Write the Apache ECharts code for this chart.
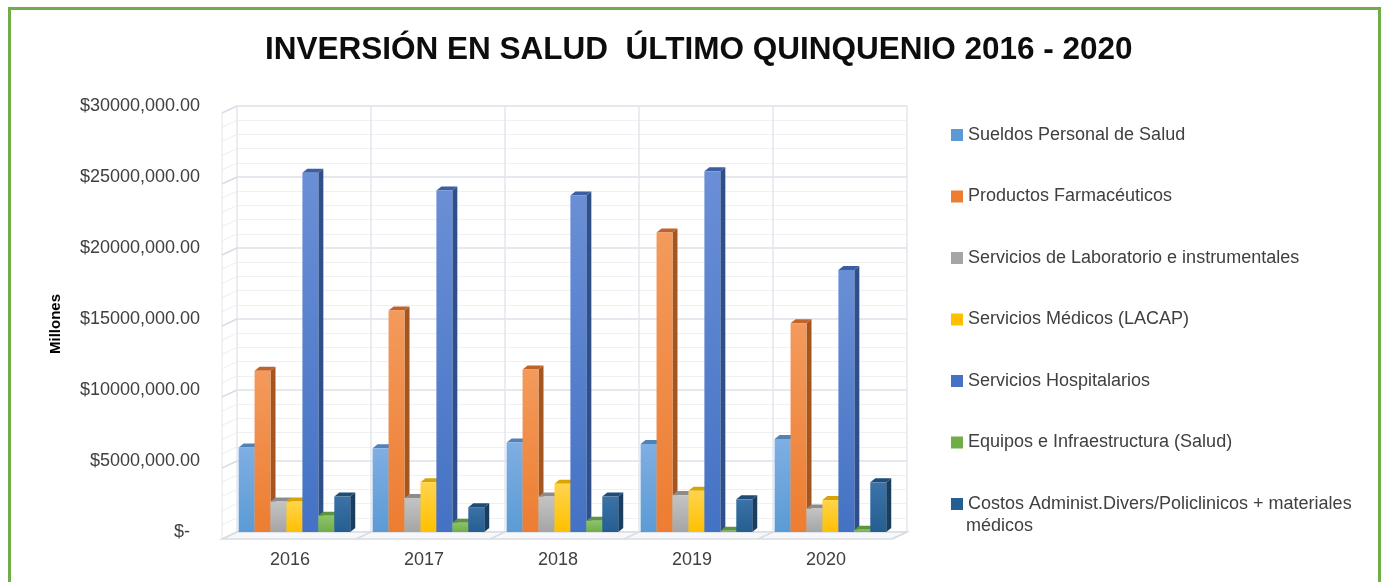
<!DOCTYPE html>
<html>
<head>
<meta charset="utf-8">
<script src="https://cdn.jsdelivr.net/npm/echarts@6/dist/echarts.min.js"></script>
<style>
html,body{margin:0;padding:0;background:#fff;}
#c{width:1385px;height:582px;}
</style>
</head>
<body>
<div id="c"></div>
<script>
// ---- data ----
const years = ['2016', '2017', '2018', '2019', '2020'];
const seriesNames = [
  'Sueldos Personal de Salud',
  'Productos Farmacéuticos',
  'Servicios de Laboratorio e instrumentales',
  'Servicios Médicos (LACAP)',
  'Servicios Hospitalarios',
  'Equipos e Infraestructura (Salud)',
  'Costos Administ.Divers/Policlinicos + materiales médicos'
];
const sueldos       = [5950000, 5900000, 6300000, 6200000, 6550000];
const productos     = [11350000, 15600000, 11450000, 21100000, 14700000];
const laboratorio   = [2150000, 2400000, 2500000, 2600000, 1650000];
const medicos       = [2150000, 3500000, 3400000, 2900000, 2250000];
const hospitalarios = [25300000, 24050000, 23700000, 25400000, 18450000];
const equipos       = [1150000, 650000, 800000, 80000, 150000];
const costos        = [2500000, 1750000, 2500000, 2300000, 3500000];
const yTicks = { min: 0, max: 30000000, interval: 5000000 };

// ---- styles ----
const palette = [
  { light: '#7FAEE2', base: '#5B9BD5', dark: '#41719C', topc: '#4F82B8' },
  { light: '#F39A5C', base: '#ED7D31', dark: '#A5561F', topc: '#C0622A' },
  { light: '#C4C4C4', base: '#A5A5A5', dark: '#7A7A7A', topc: '#8C8C8C' },
  { light: '#FFD44D', base: '#FFC000', dark: '#B88A00', topc: '#D9A300' },
  { light: '#6A8FD6', base: '#4472C4', dark: '#2F4F8A', topc: '#3A5FA3' },
  { light: '#8CC46A', base: '#70AD47', dark: '#4E7A32', topc: '#5E9340' },
  { light: '#3B73A8', base: '#255E91', dark: '#183E60', topc: '#1F4D77' }
];
const allData = [sueldos, productos, laboratorio, medicos, hospitalarios, equipos, costos];

const DX = 5, DY = 4;

function barSeries(idx) {
  const c = palette[idx];
  return {
    type: 'custom',
    name: seriesNames[idx],
    data: allData[idx].map((v, i) => [i, v]),
    encode: { x: 0, y: 1 },
    itemStyle: { color: c.base },
    z: 3,
    renderItem: function (params, api) {
      const cat = api.value(0), val = api.value(1);
      const band = api.size([1, 0])[0];
      const base = api.coord([cat, 0]);
      const top = api.coord([cat, val]);
      const bandLeft = base[0] - band / 2;
      const w = band * 0.119;
      const x0 = bandLeft + band * 0.012 + idx * w;
      const x1 = x0 + w;
      const yb = base[1], yt = top[1];
      const grad = new echarts.graphic.LinearGradient(0, 0, 0, 1, [
        { offset: 0, color: c.light }, { offset: 1, color: c.base }
      ]);
      return {
        type: 'group',
        children: [
          { type: 'polygon', shape: { points: [[x1, yb], [x1 + DX, yb - DY], [x1 + DX, yt - DY], [x1, yt]] }, style: { fill: c.dark } },
          { type: 'polygon', shape: { points: [[x0, yt], [x0 + DX, yt - DY], [x1 + DX, yt - DY], [x1, yt]] }, style: { fill: c.topc } },
          { type: 'rect', shape: { x: x0, y: yt, width: w, height: Math.max(yb - yt, 0) }, style: { fill: grad } }
        ]
      };
    }
  };
}

// frame: floor + left side wall, computed from the axes
const frameSeries = {
  type: 'custom',
  name: '__frame',
  data: [[0, 0]],
  encode: { x: 0, y: 1 },
  silent: true,
  z: 1,
  renderItem: function (params, api) {
    const band = api.size([1, 0])[0];
    const p0 = api.coord([0, 0]);
    const L = p0[0] - band / 2;
    const R = L + band * years.length;
    const y0 = p0[1];
    const ox = -15, oy = 7;
    const kids = [];
    kids.push({ type: 'polygon', shape: { points: [[L, y0], [R, y0], [R + ox, y0 + oy], [L + ox, y0 + oy]] },
      style: { fill: '#F7F8FA', stroke: '#D9DCE3', lineWidth: 1.5 } });
    for (let i = 0; i <= years.length; i++) {
      const x = L + band * i;
      kids.push({ type: 'line', shape: { x1: x, y1: y0, x2: x + ox, y2: y0 + oy }, style: { stroke: '#D9DCE3', lineWidth: 1.5 } });
    }
    const step = yTicks.interval / 5;
    for (let v = step; v <= yTicks.max + 1; v += step) {
      const y = api.coord([0, v])[1];
      const major = Math.abs(v / yTicks.interval - Math.round(v / yTicks.interval)) < 1e-6;
      kids.push({ type: 'line', shape: { x1: L, y1: y, x2: L + ox, y2: y + oy },
        style: { stroke: major ? '#D9DCE3' : '#ECEEF2', lineWidth: major ? 1.5 : 1 } });
    }
    const yTop = api.coord([0, yTicks.max])[1];
    kids.push({ type: 'line', shape: { x1: L + ox, y1: yTop + oy, x2: L + ox, y2: y0 + oy }, style: { stroke: '#E3E6EC', lineWidth: 1 } });
    return { type: 'group', children: kids };
  }
};

function fmtY(v) {
  if (v === 0) return '$-  ';
  const th = Math.floor(v / 1000);
  const rest = String(v % 1000).padStart(3, '0');
  return '$' + th + ',' + rest + '.00';
}

const chart = echarts.init(document.getElementById('c'), null, { renderer: 'canvas' });
const FONT = '"Liberation Sans", Arial, sans-serif';

chart.setOption({
  animation: false,
  backgroundColor: '#ffffff',
  textStyle: { fontFamily: FONT },
  title: {
    text: 'INVERSIÓN EN SALUD  ÚLTIMO QUINQUENIO 2016 - 2020',
    left: 260, top: 29,
    textStyle: { fontFamily: FONT, fontSize: 31.5, fontWeight: 'bold', color: '#0D0D0D' }
  },
  legend: {
    orient: 'vertical',
    left: 946, top: 121,
    itemWidth: 12, itemHeight: 12, itemGap: 43.5,
    icon: 'rect',
    data: seriesNames,
    formatter: function (n) {
      return n === seriesNames[6] ? 'Costos Administ.Divers/Policlinicos + materiales' : n;
    },
    textStyle: { fontFamily: FONT, fontSize: 18, color: '#404040' }
  },
  graphic: [
    { type: 'rect', shape: { x: 9.5, y: 8.5, width: 1370, height: 620 }, style: { fill: 'none', stroke: '#70AD47', lineWidth: 3 }, z: 100 },
    { type: 'text', left: 966, top: 517, style: { text: 'médicos', font: '18px ' + FONT, fill: '#404040' } }
  ],
  grid: { left: 237, right: 478, top: 106, bottom: 50 },
  xAxis: {
    type: 'category',
    data: years,
    axisLine: { show: false },
    axisTick: { show: false },
    splitLine: { show: true, lineStyle: { color: '#E3E6EC', width: 1.5 } },
    axisLabel: { fontFamily: FONT, fontSize: 18, color: '#404040', margin: 19, padding: [0, 28, 0, 0] }
  },
  yAxis: {
    type: 'value',
    min: yTicks.min, max: yTicks.max, interval: yTicks.interval,
    name: 'Millones',
    nameLocation: 'middle',
    nameRotate: 90,
    nameGap: 174,
    nameTextStyle: { fontFamily: FONT, fontSize: 15, fontWeight: 'bold', color: '#000', padding: [0, 10, 0, 0] },
    axisLine: { show: false },
    axisTick: { show: false },
    splitLine: { show: true, lineStyle: { color: '#DCE0E8', width: 1.5 } },
    minorTick: { show: false, splitNumber: 5 },
    minorSplitLine: { show: true, lineStyle: { color: '#EEF0F4', width: 1 } },
    axisLabel: { formatter: fmtY, fontFamily: FONT, fontSize: 18, color: '#404040', margin: 37 }
  },
  series: [frameSeries].concat(seriesNames.map((n, i) => barSeries(i)))
});
</script>
</body>
</html>
